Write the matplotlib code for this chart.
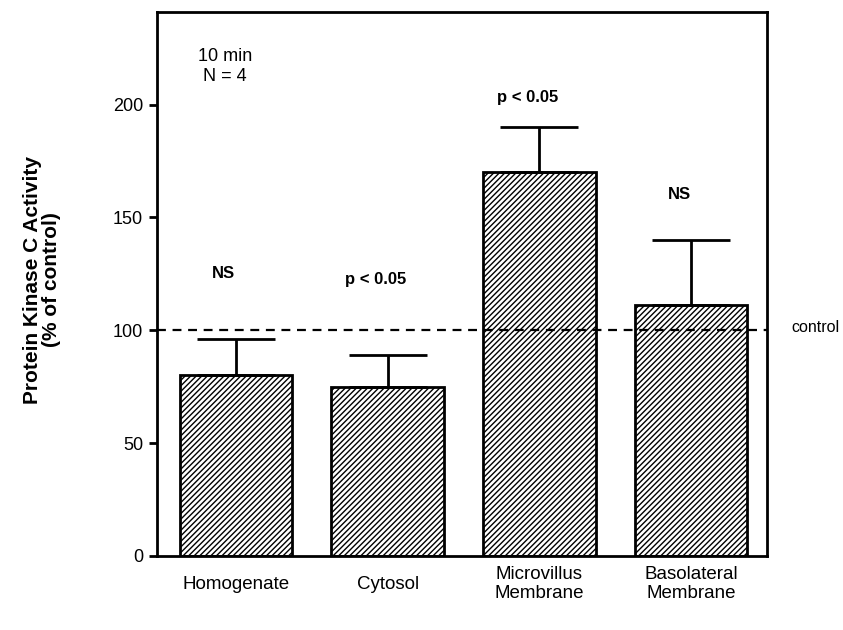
import matplotlib
matplotlib.use("Agg")
import matplotlib.pyplot as plt
from matplotlib.transforms import blended_transform_factory

plt.rcParams['font.family'] = ['Liberation Sans', 'DejaVu Sans']
plt.rcParams['hatch.linewidth'] = 1.0

categories = ["Homogenate", "Cytosol", "Microvillus\nMembrane", "Basolateral\nMembrane"]
values = [80, 75, 170, 111]
errors = [16, 14, 20, 29]
significance = ["NS", "p < 0.05", "p < 0.05", "NS"]
sig_y = [125, 122.5, 203, 160]
yticks = [0, 50, 100, 150, 200]
control_level = 100

fig = plt.figure(figsize=(8.43, 6.30), dpi=100)
ax = fig.add_axes([0.1862, 0.1175, 0.9099 - 0.1862, 0.981 - 0.1175])

x = list(range(len(categories)))
ax.bar(x, values, width=0.74, color='white', edgecolor='black', linewidth=2,
       hatch='//////', zorder=2)
ax.errorbar(x, values, yerr=[[0]*len(errors), errors], fmt='none', ecolor='black',
            elinewidth=2, capsize=28, capthick=2, zorder=3)

ax.axhline(control_level, color='black', linestyle=(0, (4, 3)), linewidth=1.6, zorder=4)
ax.text(1.04, control_level + 1, "control", transform=blended_transform_factory(ax.transAxes, ax.transData),
        ha='left', va='center', fontsize=11.5)

for xi, s, yy in zip(x, significance, sig_y):
    ax.text(xi - 0.08, yy, s, ha='center', va='center', fontsize=12, fontweight='bold')

ax.text(0.111, 0.9, "10 min\nN = 4", transform=ax.transAxes, ha='center', va='center',
        fontsize=13, linespacing=1.25)

ax.set_xlim(-0.52, 3.5)
ax.set_ylim(0, 241)
ax.set_yticks(yticks)
ax.set_yticklabels([str(t) for t in yticks], fontsize=13)
ax.tick_params(axis='y', direction='out', length=6, width=2, pad=4)
ax.set_xticks([])
for sp in ax.spines.values():
    sp.set_linewidth(2)

trans = blended_transform_factory(ax.transData, ax.transAxes)
for xi, c in zip(x, categories):
    ax.text(xi, -0.052, c, transform=trans, ha='center', va='center', fontsize=13.5,
            linespacing=1.15)

fig.text(0.05, 0.556, "Protein Kinase C Activity\n(% of control)", rotation=90,
         ha='center', va='center', fontsize=15, fontweight='bold', linespacing=1.0)

fig.savefig("out.png", dpi=100)
